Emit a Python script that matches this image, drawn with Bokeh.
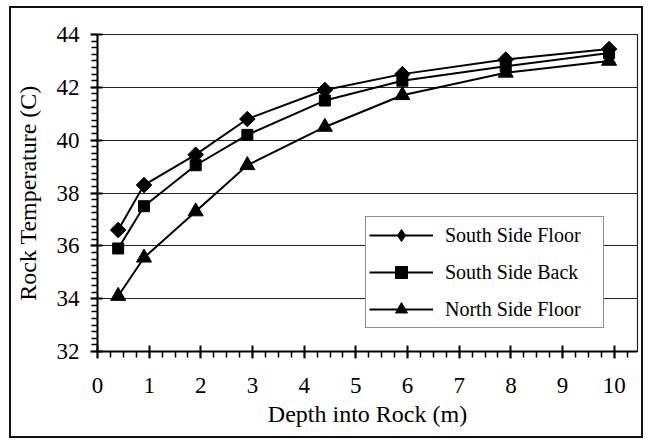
import math
from bokeh.plotting import figure
from bokeh.models import SingleIntervalTicker, Range1d, Legend, LegendItem
from bokeh.embed import file_html
from bokeh.resources import INLINE

# ---- data ----
depth = [0.4, 0.9, 1.9, 2.9, 4.4, 5.9, 7.9, 9.9]
south_side_floor = [36.6, 38.3, 39.45, 40.8, 41.9, 42.5, 43.05, 43.45]
south_side_back = [35.9, 37.5, 39.05, 40.2, 41.5, 42.25, 42.8, 43.3]
north_side_floor = [34.1, 35.55, 37.3, 39.05, 40.5, 41.7, 42.55, 43.0]
series_names = ["South Side Floor", "South Side Back", "North Side Floor"]
x_label = "Depth into Rock (m)"
y_label = "Rock Temperature (C)"

FONT = "Liberation Serif"

p = figure(width=634, height=432,
           x_range=Range1d(0, 10.45), y_range=Range1d(32, 44),
           output_backend="svg", toolbar_location=None,
           min_border_left=85, min_border_right=8,
           min_border_top=26, min_border_bottom=89)
p.styles = {"border": "2px solid #111", "margin-left": "9px", "margin-top": "6px"}
p.background_fill_color = "white"
p.border_fill_color = "white"
p.outline_line_color = "#222"
p.outline_line_width = 1.2

p.xaxis.ticker = SingleIntervalTicker(interval=1, num_minor_ticks=4)
p.yaxis.ticker = SingleIntervalTicker(interval=2, num_minor_ticks=8)
p.xgrid.visible = False
p.ygrid.grid_line_color = "#222"
p.ygrid.grid_line_width = 1

for ax in (p.xaxis[0], p.yaxis[0]):
    ax.axis_line_color = "black"
    ax.axis_line_width = 2
    ax.major_tick_line_color = "black"
    ax.major_tick_line_width = 2
    ax.minor_tick_line_color = "black"
    ax.minor_tick_line_width = 1.5
    ax.major_tick_out = 7
    ax.minor_tick_out = 6
    ax.minor_tick_in = 0
    ax.major_label_text_font = FONT
    ax.major_label_text_font_size = "23px"
    ax.major_label_text_color = "black"
    ax.axis_label_text_font = FONT
    ax.axis_label_text_font_size = "24px"
    ax.axis_label_text_font_style = "normal"
    ax.axis_label_text_color = "black"

p.xaxis.major_tick_in = 6
p.yaxis.major_tick_in = 5
p.xaxis.major_label_standoff = 19
p.yaxis.major_label_standoff = 11
p.xaxis.axis_label = x_label
p.yaxis.axis_label = y_label
p.xaxis.axis_label_standoff = 5
p.yaxis.axis_label_standoff = 13

series_values = [south_side_floor, south_side_back, north_side_floor]
plot_markers = ["square", "square", "triangle"]
plot_angles = [math.pi / 4, 0, 0]
plot_sizes = [11, 11, 15]
legend_markers = ["diamond", "square", "triangle"]

items = []
for name, vals, mk, ang, sz, lmk in zip(series_names, series_values, plot_markers,
                                        plot_angles, plot_sizes, legend_markers):
    lr = p.line(depth, vals, line_color="black", line_width=2)
    p.scatter(depth, vals, marker=mk, angle=ang, size=sz,
              fill_color="black", line_color="black")
    # hidden twin of the same points, used only for the legend swatch
    legend_r = p.scatter(depth, vals, marker=lmk, size=sz,
                         fill_color="black", line_color="black", visible=False)
    items.append(LegendItem(label=name, renderers=[lr, legend_r]))

legend = Legend(items=items, location=(268, 23))
legend.border_line_color = "#222"
legend.border_line_width = 1.2
legend.background_fill_alpha = 1
legend.padding = 3
legend.margin = 0
legend.spacing = 7
legend.glyph_width = 64
legend.glyph_height = 30
legend.label_height = 30
legend.label_width = 155
legend.label_standoff = 12
legend.label_text_font = FONT
legend.label_text_font_size = "20px"
legend.label_text_color = "black"
p.add_layout(legend, "center")

open("out.html", "w").write(file_html(p, INLINE))
